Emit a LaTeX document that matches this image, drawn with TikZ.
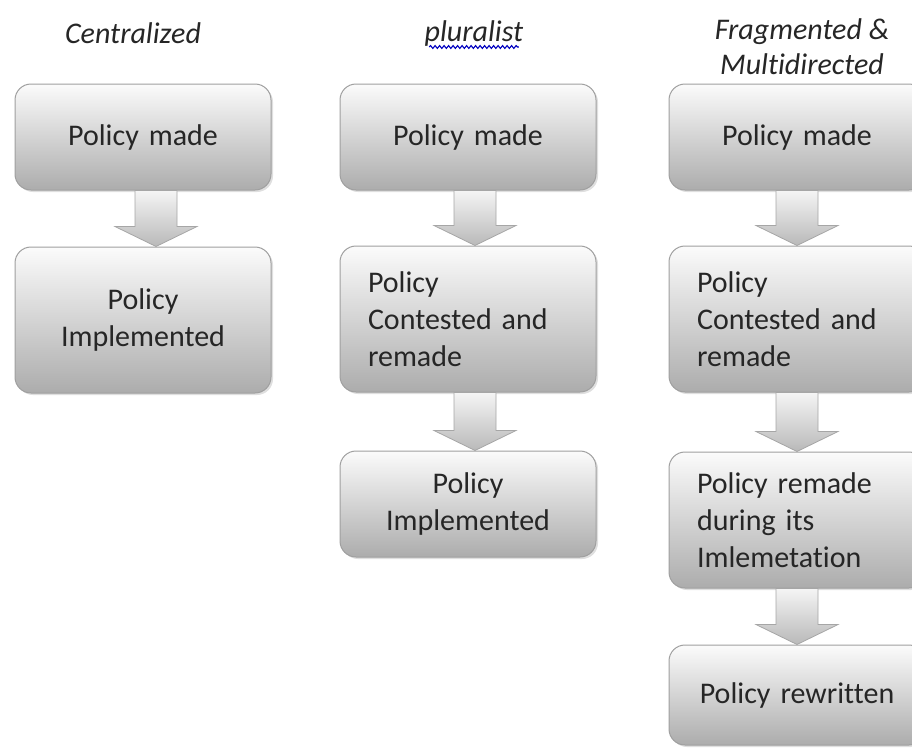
\documentclass[tikz,border=0pt]{standalone}
\usepackage{fontspec}
\setmainfont{Carlito}[Ligatures={NoCommon}]
\usetikzlibrary{calc, positioning, shadows, decorations.pathmorphing}

\tikzset{
	stage/.style={draw=gray!75, line width=1pt, rounded corners=16pt, top color=gray!3, bottom color=gray!65,
		minimum width=256pt, inner xsep=28pt, text width=200pt, align=center, text=black!85,
		font=\fontsize{30}{37}\selectfont,
		drop shadow={shadow xshift=2pt, shadow yshift=-2pt, opacity=.25}},
	stageleft/.style={stage, align=left},
	heading/.style={font=\fontsize{30}{35}\selectfont\itshape, text=black!85, align=center},
	flow/.style={draw=gray!70, line width=.8pt, top color=gray!8, bottom color=gray!55},
}
\newcommand{\flowarrow}[3][0]{%
	\path[flow] let \p1=($(#2.south)+(#1pt,0)$), \p2=(#3.north) in
	(\x1-21pt,\y1) -- (\x1+21pt,\y1) -- (\x1+21pt,\y2+20pt) -- (\x1+41pt,\y2+20pt) -- (\x1,\y2)
	-- (\x1-41pt,\y2+20pt) -- (\x1-21pt,\y2+20pt) -- cycle;}

\begin{document}
\begin{tikzpicture}[x=1pt,y=-1pt]
	\useasboundingbox (0,0) rectangle (912,748);
	\node[heading] (cent) at (133,33) {Centralized};
	\node[heading] (plur) at (474,33) {pluralist};
	\draw[blue!75!black, line width=1.1pt, decorate, decoration={snake, amplitude=1.4pt, segment length=4.5pt}]
		($(plur.base west)+(8pt,-6pt)$) -- ($(plur.base east)+(-8pt,-6pt)$);
	\node[heading] (frag) at (802,47) {Fragmented \&\\Multidirected};

	\node[stage, minimum height=106pt] (c1) at (143,137) {Policy made};
	\node[stage, minimum height=146pt] (c2) at (143,320) {Policy\\Implemented};

	\node[stage, minimum height=106pt] (p1) at (468,137) {Policy made};
	\node[stageleft, minimum height=146pt] (p2) at (468,319) {Policy\\Contested and\\remade};
	\node[stage, minimum height=106pt] (p3) at (468,504) {Policy\\Implemented};

	\node[stage, minimum height=106pt] (f1) at (797,137) {Policy made};
	\node[stageleft, minimum height=146pt] (f2) at (797,319) {Policy\\Contested and\\remade};
	\node[stageleft, minimum height=136pt] (f3) at (797,520) {Policy remade\\during its\\Imlemetation};
	\node[stage, minimum height=100pt] (f4) at (797,695) {Policy rewritten};

	\flowarrow[13]{c1}{c2}
	\flowarrow[7]{p1}{p2}
	\flowarrow[7]{p2}{p3}
	\flowarrow{f1}{f2}
	\flowarrow{f2}{f3}
	\flowarrow{f3}{f4}
\end{tikzpicture}
\end{document}
